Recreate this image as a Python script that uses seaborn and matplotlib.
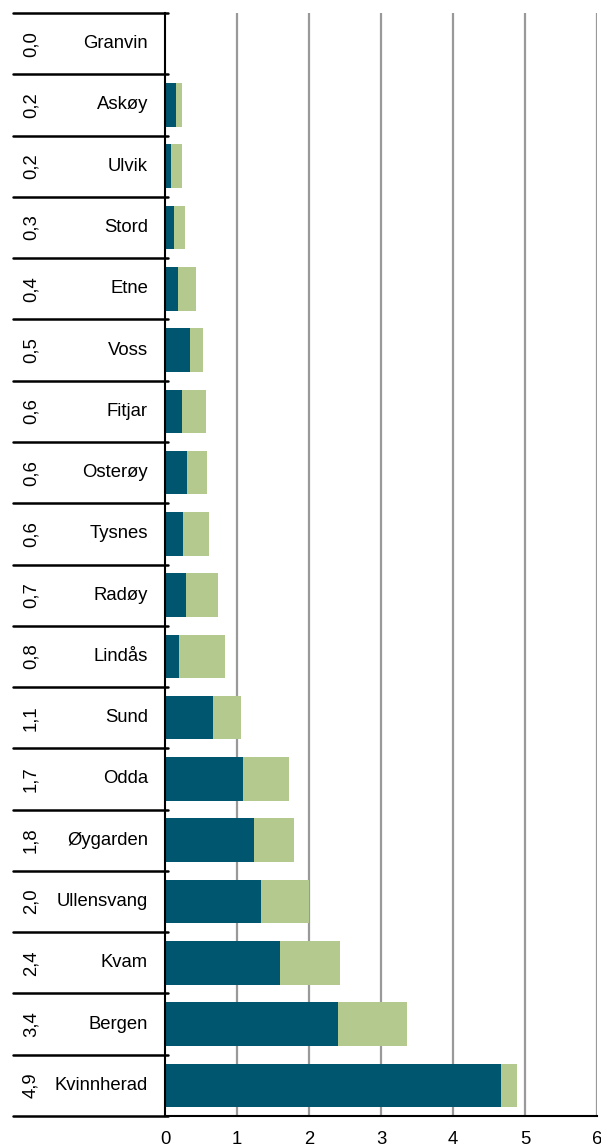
import matplotlib
matplotlib.use("Agg")
import matplotlib.pyplot as plt
import matplotlib.transforms as mtransforms
import seaborn as sns
import pandas as pd
import numpy as np

# kommuner, sortert fra minst til størst
kommuner = ['Granvin', 'Askøy', 'Ulvik', 'Stord', 'Etne', 'Voss', 'Fitjar',
            'Osterøy', 'Tysnes', 'Radøy', 'Lindås', 'Sund', 'Odda', 'Øygarden',
            'Ullensvang', 'Kvam', 'Bergen', 'Kvinnherad']
# mørk del (første serie) og lys del (andre serie)
mork = [0.0, 0.15, 0.09, 0.12, 0.18, 0.35, 0.24, 0.30, 0.25, 0.29, 0.19,
        0.67, 1.08, 1.24, 1.33, 1.60, 2.40, 4.67]
lys = [0.0, 0.08, 0.15, 0.16, 0.25, 0.18, 0.33, 0.28, 0.36, 0.45, 0.64,
       0.39, 0.64, 0.55, 0.67, 0.83, 0.96, 0.22]
totaler = ['0,0', '0,2', '0,2', '0,3', '0,4', '0,5', '0,6', '0,6', '0,6', '0,7',
           '0,8', '1,1', '1,7', '1,8', '2,0', '2,4', '3,4', '4,9']

df = pd.DataFrame({'kommune': kommuner, 'mork': mork, 'lys': lys})
df['total'] = df['mork'] + df['lys']

dark_col = '#00566e'
light_col = '#b4c98e'

sns.set_style('white')
plt.rcParams['font.family'] = ['Liberation Sans', 'DejaVu Sans']
plt.rcParams['text.color'] = 'black'
plt.rcParams['xtick.color'] = 'black'

fs = 13.3
W, H = 601, 1144
fig = plt.figure(figsize=(W / 100, H / 100), dpi=100)
ax = fig.add_axes([165 / W, 28 / H, 432 / W, (1116 - 13) / H])

sns.barplot(data=df, y='kommune', x='total', color=light_col, orient='h',
            width=0.71, saturation=1, linewidth=0, ax=ax)
sns.barplot(data=df, y='kommune', x='mork', color=dark_col, orient='h',
            width=0.71, saturation=1, linewidth=0, ax=ax)

n = len(kommuner)
ax.set_xlim(0, 6)
ax.set_ylim(n - 0.5, -0.5)
ax.set_xticks(range(7))
ax.set_xticklabels([str(i) for i in range(7)], fontsize=fs, color='black')
ax.tick_params(axis='x', direction='inout', length=10, width=1.5, pad=6,
               colors='black')
ax.set_xlabel('')
ax.set_ylabel('')
ax.set_yticks([])

# vertikale rutenett
for v in range(1, 7):
    ax.axvline(v, color='#999999', lw=1.6, zorder=0)

for s in ['top', 'right']:
    ax.spines[s].set_visible(False)
for s in ['left', 'bottom']:
    ax.spines[s].set_linewidth(1.5)
    ax.spines[s].set_color('black')

# tabell til venstre: skillelinjer, totaler og navn
trans = mtransforms.blended_transform_factory(ax.transAxes, ax.transData)
x_left = (13 - 165) / 432
for b in np.arange(-0.5, n, 1.0):
    ax.plot([x_left, 0.008], [b, b], color='black', lw=1.8,
            transform=trans, clip_on=False)

for i, (navn, tot) in enumerate(zip(kommuner, totaler)):
    ax.text((31 - 165) / 432, i, tot, rotation=90, ha='center', va='center',
            fontsize=fs, color='black', transform=trans)
    ax.text((148 - 165) / 432, i, navn, ha='right', va='center',
            fontsize=fs, color='black', transform=trans)

fig.savefig('out.png', dpi=100)
